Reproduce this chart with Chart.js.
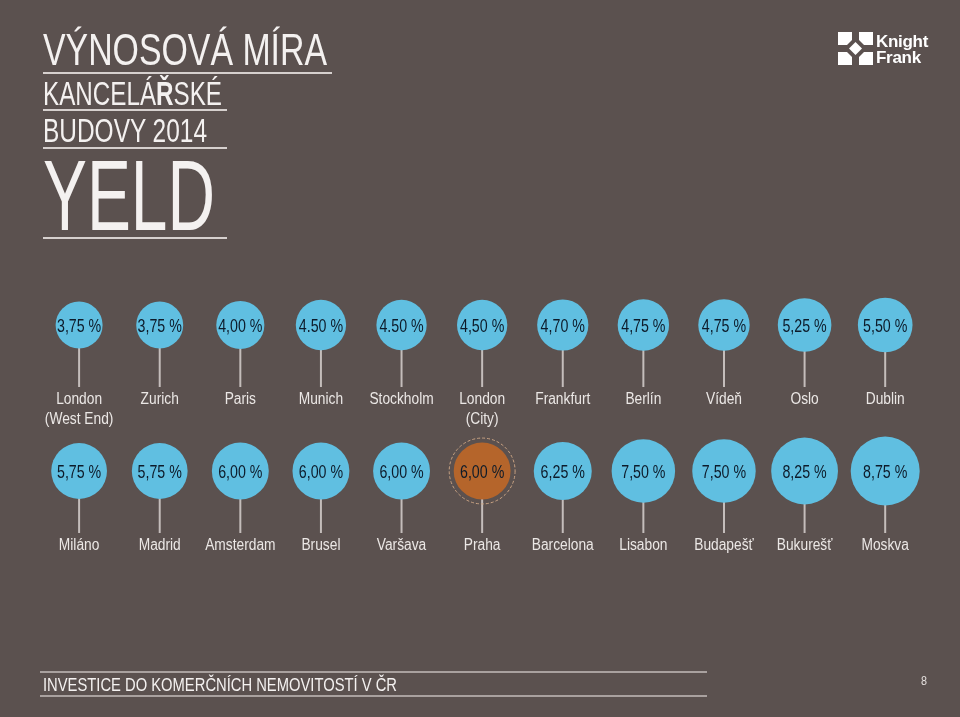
<!DOCTYPE html>
<html>
<head>
<meta charset="utf-8">
<script src="https://cdn.jsdelivr.net/npm/chart.js@4/dist/chart.umd.min.js"></script>
<style>
    body { margin: 0; background: #5b514f; }
    #page { position: relative; width: 960px; height: 717px; overflow: hidden; background: #5b514f; }
    #chartBox { position: absolute; left: 0; top: 0; width: 960px; height: 717px; }
    .t { position: absolute; left: 43px; color: #f4f1f0; font-family: "Liberation Sans", Arial, sans-serif;
         line-height: 1; white-space: nowrap; transform-origin: 0 0; }
    .rule { position: absolute; left: 43px; height: 1.5px; background: #d6d0ce; }
    .foot { position: absolute; left: 40px; width: 667px; height: 2px; background: #a9a19f; }
    #logo { position: absolute; left: 838px; top: 32px; }
    .kf { position: absolute; left: 876px; color: #fff; font: bold 17px "Liberation Sans", Arial, sans-serif; line-height: 1; letter-spacing: -0.3px; }
</style>
</head>
<body>
<div id="page">
    <div id="chartBox"><canvas id="yieldChart"></canvas></div>

    <div class="t" style="top:28px;font-size:44px" data-w="284">VÝNOSOVÁ MÍRA</div>
    <div class="rule" style="top:72px;width:289px"></div>
    <div class="t" style="top:76px;font-size:34px" data-w="179">KANCELÁ<b>Ř</b>SKÉ</div>
    <div class="rule" style="top:109px;width:184px"></div>
    <div class="t" style="top:114px;font-size:33px" data-w="164">BUDOVY 2014</div>
    <div class="rule" style="top:147px;width:184px"></div>
    <div class="t" style="top:145px;font-size:100px" data-w="172">YELD</div>
    <div class="rule" style="top:237px;width:184px"></div>

    <svg id="logo" width="35" height="33" viewBox="0 0 35 33">
        <g fill="#ffffff">
            <polygon points="0,0 14,0 14,8 9,13 0,13"/>
            <polygon points="21,0 35,0 35,13 26,13 21,8"/>
            <polygon points="0,20 9,20 14,25 14,33 0,33"/>
            <polygon points="26,20 35,20 35,33 21,33 21,25"/>
            <polygon points="17.5,10 24,16.5 17.5,23 11,16.5"/>
        </g>
    </svg>
    <div class="kf" style="top:33px">Knight</div>
    <div class="kf" style="top:49px">Frank</div>

    <div class="foot" style="top:671px"></div>
    <div class="t" style="top:676px;font-size:18px" data-w="354">INVESTICE DO KOMERČNÍCH NEMOVITOSTÍ V ČR</div>
    <div class="foot" style="top:695px"></div>
    <div class="t" style="left:921px;top:674px;font-size:13px;color:#e4dfdd" data-w="6">8</div>
</div>

<script>
/* ---------------------------------------------------
   Data
---------------------------------------------------*/

const citiesTop = ["London\n(West End)", "Zurich", "Paris", "Munich", "Stockholm", "London\n(City)",
    "Frankfurt", "Berlín", "Vídeň", "Oslo", "Dublin"];
const yieldsTop = [3.75, 3.75, 4.00, 4.50, 4.50, 4.50, 4.70, 4.75, 4.75, 5.25, 5.50];
const labelsTop = ["3,75 %", "3,75 %", "4,00 %", "4.50 %", "4.50 %", "4,50 %", "4,70 %", "4,75 %",
    "4,75 %", "5,25 %", "5,50 %"];

const citiesBottom = ["Miláno", "Madrid", "Amsterdam", "Brusel", "Varšava", "Praha", "Barcelona",
    "Lisabon", "Budapešť", "Bukurešť", "Moskva"];
const yieldsBottom = [5.75, 5.75, 6.00, 6.00, 6.00, 6.00, 6.25, 7.50, 7.50, 8.25, 8.75];
const labelsBottom = ["5,75 %", "5,75 %", "6,00 %", "6,00 %", "6,00 %", "6,00 %", "6,25 %", "7,50 %",
    "7,50 %", "8,25 %", "8,75 %"];

const highlightCity = "Praha";

/* ---------------------------------------------------
   Helpers
---------------------------------------------------*/

// bubble radius grows linearly with the yield
function radiusFor(v) {
    return 23.5 + 2.2 * (v - 3.75);
}

function rowPoints(values, row) {
    return values.map((v, i) => ({ x: i, y: row, r: radiusFor(v) }));
}

const FONT = '"Liberation Sans", Arial, sans-serif';

// condensed look: squeeze the text horizontally
function narrowText(ctx, text, x, y, sx) {
    ctx.save();
    ctx.translate(x, y);
    ctx.scale(sx, 1);
    ctx.fillText(text, 0, 0);
    ctx.restore();
}

/* ---------------------------------------------------
   Stems, ring and texts
---------------------------------------------------*/

const lollipopPlugin = {
    id: "lollipop",
    beforeDatasetsDraw(chart) {
        const ctx = chart.ctx;
        ctx.save();
        ctx.strokeStyle = "#c4bdbb";
        ctx.lineWidth = 2;
        chart.data.datasets.forEach((ds, di) => {
            chart.getDatasetMeta(di).data.forEach(el => {
                ctx.beginPath();
                ctx.moveTo(el.x, el.y);
                ctx.lineTo(el.x, el.y + 62);
                ctx.stroke();
            });
        });
        ctx.restore();
    },
    afterDatasetsDraw(chart) {
        const ctx = chart.ctx;
        ctx.save();
        ctx.textAlign = "center";
        ctx.textBaseline = "middle";
        chart.data.datasets.forEach((ds, di) => {
            const cities = ds.cities;
            const texts = ds.valueLabels;
            chart.getDatasetMeta(di).data.forEach((el, i) => {
                const r = ds.data[i].r;

                if (cities[i] === highlightCity) {
                    ctx.strokeStyle = "#c9a383";
                    ctx.lineWidth = 1;
                    ctx.setLineDash([3, 2]);
                    ctx.beginPath();
                    ctx.arc(el.x, el.y, r + 4.5, 0, Math.PI * 2);
                    ctx.stroke();
                    ctx.setLineDash([]);
                }

                ctx.fillStyle = "#0d1b2a";
                ctx.font = "18px " + FONT;
                narrowText(ctx, texts[i], el.x, el.y + 2, 0.79);

                ctx.fillStyle = "#ebe7e5";
                ctx.font = "16px " + FONT;
                cities[i].split("\n").forEach((line, li) => {
                    narrowText(ctx, line, el.x, el.y + 75 + li * 20, 0.86);
                });
            });
        });
        ctx.restore();
    }
};

/* ---------------------------------------------------
   Chart
---------------------------------------------------*/

function colorsFor(cities) {
    return cities.map(c => c === highlightCity ? "#b5652b" : "#60bfe1");
}

new Chart(document.getElementById("yieldChart"), {
    type: "bubble",
    data: {
        datasets: [
            {
                data: rowPoints(yieldsTop, 0),
                cities: citiesTop,
                valueLabels: labelsTop,
                backgroundColor: colorsFor(citiesTop),
                borderWidth: 0,
                clip: false
            },
            {
                data: rowPoints(yieldsBottom, 1),
                cities: citiesBottom,
                valueLabels: labelsBottom,
                backgroundColor: colorsFor(citiesBottom),
                borderWidth: 0,
                clip: false
            }
        ]
    },
    options: {
        responsive: true,
        maintainAspectRatio: false,
        animation: false,
        events: [],
        layout: { padding: { left: 38.8, right: 25.2, top: 252, bottom: 173 } },
        scales: {
            x: { type: "linear", min: -0.5, max: 10.5, display: false },
            y: { type: "linear", min: -0.5, max: 1.5, reverse: true, display: false }
        },
        plugins: {
            legend: { display: false },
            tooltip: { enabled: false }
        }
    },
    plugins: [lollipopPlugin]
});

/* squeeze the title lines to the widths of the condensed original */
document.querySelectorAll(".t[data-w]").forEach(el => {
    const w = el.getBoundingClientRect().width;
    el.style.transform = "scaleX(" + (parseFloat(el.dataset.w) / w) + ")";
});
</script>
</body>
</html>
